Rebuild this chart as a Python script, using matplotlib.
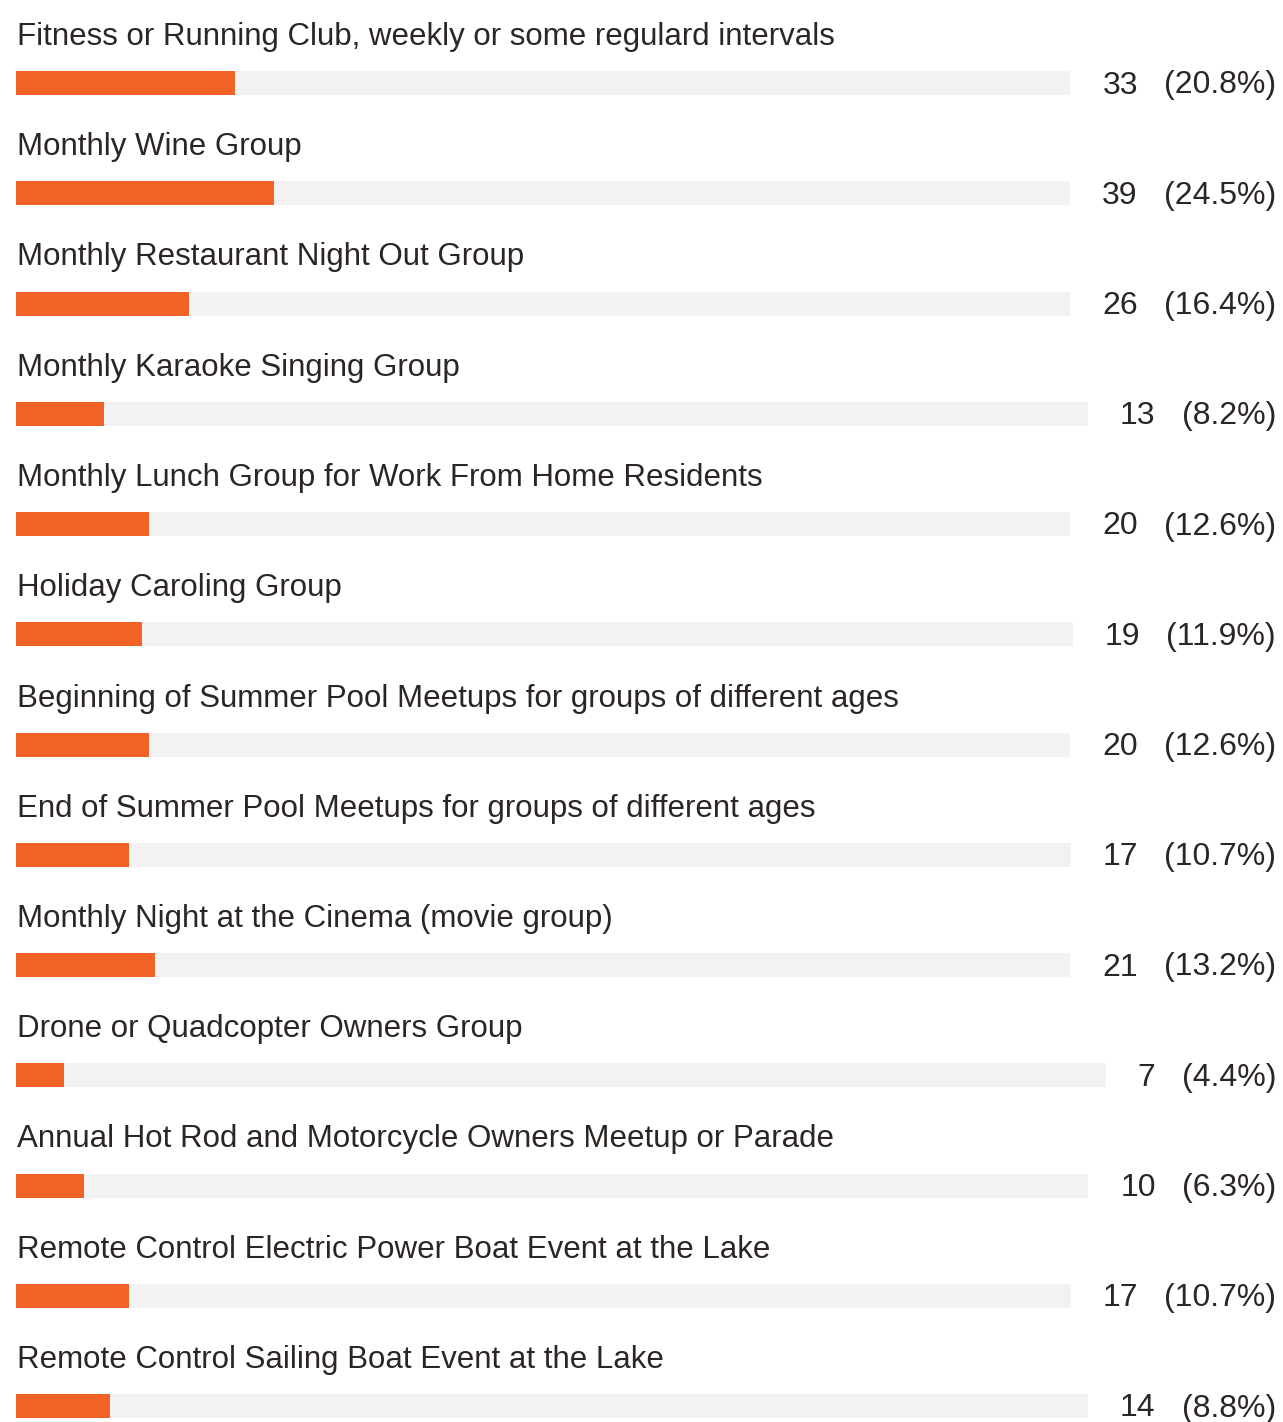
import matplotlib.pyplot as plt

groups = [
    "Fitness or Running Club, weekly or some regulard intervals",
    "Monthly Wine Group",
    "Monthly Restaurant Night Out Group",
    "Monthly Karaoke Singing Group",
    "Monthly Lunch Group for Work From Home Residents",
    "Holiday Caroling Group",
    "Beginning of Summer Pool Meetups for groups of different ages",
    "End of Summer Pool Meetups for groups of different ages",
    "Monthly Night at the Cinema (movie group)",
    "Drone or Quadcopter Owners Group",
    "Annual Hot Rod and Motorcycle Owners Meetup or Parade",
    "Remote Control Electric Power Boat Event at the Lake",
    "Remote Control Sailing Boat Event at the Lake",
]
counts = [33, 39, 26, 13, 20, 19, 20, 17, 21, 7, 10, 17, 14]
percents = [20.8, 24.5, 16.4, 8.2, 12.6, 11.9, 12.6, 10.7, 13.2, 4.4, 6.3, 10.7, 8.8]

ORANGE = "#f26125"
TRACK = "#f2f2f2"
INK = "#2b2623"
FONT = "Liberation Sans"

W, H = 1283, 1422
fig = plt.figure(figsize=(W / 100, H / 100), dpi=100)
ax = fig.add_axes([0, 0, 1, 1])
ax.set_xlim(0, W)
ax.set_ylim(H, 0)
ax.axis("off")
renderer = fig.canvas.get_renderer()

left = 16
pitch = 110.25
bar_h = 24
right_edge = 1276

for i, (name, n, pct) in enumerate(zip(groups, counts, percents)):
    top = 71 + i * pitch
    yc = top + bar_h / 2
    ax.text(17, 45 + i * pitch, name, fontsize=22.5, color=INK,
            family=FONT, va="baseline", ha="left")

    # count and share sit to the right, the grey track fills what is left
    pt = ax.text(right_edge, top + 22.5, f"({pct:.1f}%)", fontsize=23,
                 color=INK, family=FONT, va="baseline", ha="right")
    pbox = pt.get_window_extent(renderer)
    ct = ax.text(pbox.x0 - 26, top + 22.5, str(n), fontsize=23,
                 color=INK, family=FONT, va="baseline", ha="right")
    cbox = ct.get_window_extent(renderer)

    track_w = cbox.x0 - 32 - left
    ax.barh(yc, track_w, left=left, height=bar_h, color=TRACK, linewidth=0)
    ax.barh(yc, track_w * pct / 100, left=left, height=bar_h,
            color=ORANGE, linewidth=0)

fig.savefig("out.png", dpi=100)
